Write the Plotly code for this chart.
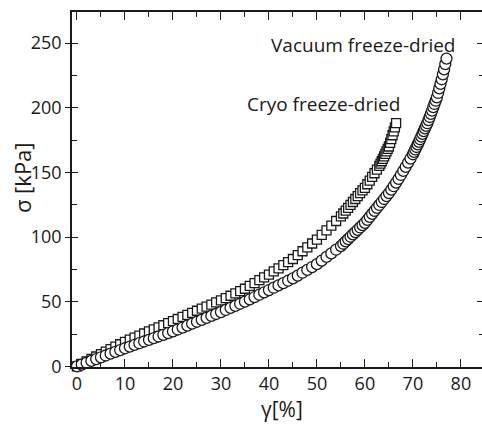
import plotly.graph_objects as go

# Vacuum freeze-dried (circles)
vac_strain = [0, 1, 2, 3, 4, 5, 6, 7, 8, 9, 10, 11, 12, 13, 14, 15, 16, 17, 18, 19, 20,
              21, 22, 23, 24, 25, 26, 27, 28, 29, 30, 31, 32, 33, 34, 35, 36, 37, 38, 39, 40,
              41, 42, 43, 44, 45, 46, 47, 48, 49, 50, 51, 52, 53, 54, 55,
              55.5, 56, 56.5, 57, 57.5, 58, 58.5, 59, 59.5, 60,
              60.5, 61, 61.5, 62, 62.5, 63, 63.5, 64, 64.5, 65,
              65.5, 66, 66.5, 67, 67.5, 68, 68.5, 69, 69.5, 70,
              70.25, 70.5, 70.75, 71, 71.25, 71.5, 71.75, 72, 72.25, 72.5, 72.75, 73,
              73.25, 73.5, 73.75, 74, 74.25, 74.5, 74.75, 75,
              75.25, 75.5, 75.75, 76, 76.25, 76.5, 76.75, 77]
vac_stress = [0, 1.4, 2.8, 4.2, 5.6, 7, 8.4, 9.8, 11.2, 12.6, 14,
              15.3, 16.6, 17.9, 19.2, 20.5, 21.8, 23.1, 24.4, 25.7, 27,
              28.5, 30, 31.5, 33, 34.5, 36, 37.5, 39, 40.5, 42,
              43.6, 45.2, 46.8, 48.4, 50, 51.8, 53.6, 55.4, 57.2, 59,
              60.8, 62.6, 64.4, 66.2, 68, 70.2, 72.4, 74.6, 76.8, 79,
              81.8, 84.6, 87.4, 90.2, 93,
              94.8, 96.6, 98.4, 100.2, 102, 103.8, 105.6, 107.4, 109.2, 111,
              113.3, 115.6, 117.9, 120.2, 122.5, 124.8, 127.1, 129.4, 131.7, 134,
              136.6, 139.3, 142.1, 145, 148, 151.1, 154.3, 157.5, 160.7, 164,
              165.8, 167.7, 169.6, 171.6, 173.6, 175.6, 177.7, 179.8, 181.9, 184, 186, 188,
              190.4, 192.8, 195.3, 197.8, 200.4, 202.9, 205.4, 208,
              211.4, 214.9, 218.4, 222, 225.8, 229.6, 233.7, 238]

# Cryo freeze-dried (squares)
cryo_strain = [0, 1, 2, 3, 4, 5, 6, 7, 8, 9, 10, 11, 12, 13, 14, 15, 16, 17, 18, 19, 20,
               21, 22, 23, 24, 25, 26, 27, 28, 29, 30, 31, 32, 33, 34, 35, 36, 37, 38, 39, 40,
               41, 42, 43, 44, 45, 46, 47, 48, 49, 50, 51, 52, 53, 54, 55,
               55.5, 56, 56.5, 57, 57.5, 58, 58.5, 59, 59.5, 60,
               60.5, 61, 61.5, 62, 62.5, 63,
               63.25, 63.5, 63.75, 64, 64.25, 64.5, 64.75, 65,
               65.25, 65.5, 65.75, 66, 66.25, 66.5]
cryo_stress = [0, 1.9, 3.8, 5.7, 7.6, 9.5, 11.4, 13.3, 15.2, 17.1, 19,
               20.6, 22.2, 23.8, 25.4, 27, 28.6, 30.2, 31.8, 33.4, 35,
               36.6, 38.2, 39.8, 41.4, 43, 44.6, 46.2, 47.8, 49.4, 51,
               52.8, 54.6, 56.4, 58.2, 60, 62.2, 64.4, 66.6, 68.8, 71,
               73.4, 75.8, 78.2, 80.6, 83, 86, 89, 92, 95, 98,
               101.6, 105.2, 108.8, 112.4, 116,
               118.2, 120.4, 122.6, 124.8, 127.1, 129.4, 131.7, 134, 136, 138,
               140.8, 143.6, 146.5, 149.3, 152.1, 155,
               156.8, 158.6, 160.5, 162.4, 164.3, 166.2, 168.1, 170,
               172.8, 175.7, 178.7, 181.7, 184.8, 188]

labels = ["Vacuum freeze-dried", "Cryo freeze-dried"]
label_pos = [(79.2, 248.5), (67.7, 203)]
x_title = "γ[%]"
y_title = "σ [kPa]"

x_ticks = [0, 10, 20, 30, 40, 50, 60, 70, 80]
y_ticks = [0, 50, 100, 150, 200, 250]
y_minor = [25, 75, 125, 175, 225]
x_range = [-1.04, 84.4]
y_range = [-0.5, 274]

FONT = "Open Sans"
INK = "#1a1a1a"

fig = go.Figure()
fig.add_trace(go.Scatter(x=cryo_strain, y=cryo_stress, mode="markers", cliponaxis=False,
                         marker=dict(symbol="square", size=9, color="white",
                                     line=dict(color=INK, width=1.3)),
                         showlegend=False))
fig.add_trace(go.Scatter(x=vac_strain, y=vac_stress, mode="markers", cliponaxis=False,
                         marker=dict(symbol="circle", size=11, color="white",
                                     line=dict(color=INK, width=1.3)),
                         showlegend=False))

for t, (ax, ay) in zip(labels, label_pos):
    fig.add_annotation(x=ax, y=ay, text=t, showarrow=False, xanchor="right", yanchor="middle",
                       font=dict(family=FONT, size=19, color=INK))

# axis titles
fig.add_annotation(x=0.512, y=-0.118, xref="paper", yref="paper", text=x_title,
                   showarrow=False, xanchor="center", yanchor="middle",
                   font=dict(family=FONT, size=21, color=INK))
fig.add_annotation(x=-0.122, y=0.535, xref="paper", yref="paper", text=y_title,
                   textangle=-90, showarrow=False, xanchor="center", yanchor="middle",
                   font=dict(family=FONT, size=22, color=INK))

axis_common = dict(showgrid=False, zeroline=False, linecolor=INK, tickcolor=INK,
                   tickwidth=1.3)

fig.update_layout(
    width=482, height=427,
    margin=dict(l=72, r=0, t=12, b=60),
    paper_bgcolor="white", plot_bgcolor="white",
    font=dict(family=FONT, size=18, color=INK),
    xaxis=dict(range=x_range, tickvals=x_ticks, ticks="inside", ticklen=8,
               showline=True, linewidth=1.5, mirror="ticks",
               minor=dict(dtick=5, ticks="inside", ticklen=5, tickcolor=INK),
               **axis_common),
    yaxis=dict(range=y_range, tickvals=y_ticks, ticks="outside", ticklen=5,
               showline=True, linewidth=1.5,
               minor=dict(tickvals=y_minor, ticks="inside", ticklen=5, tickcolor=INK),
               **axis_common),
    yaxis2=dict(range=y_range, overlaying="y", side="left", tickvals=y_ticks,
                ticks="inside", ticklen=6, showticklabels=False, showline=False,
                **axis_common),
    yaxis3=dict(range=y_range, overlaying="y", side="right", tickvals=y_ticks,
                ticks="inside", ticklen=5, showticklabels=False, showline=False,
                minor=dict(tickvals=y_minor, ticks="inside", ticklen=3, tickcolor=INK),
                **axis_common),
)
# empty traces so the overlay axes are drawn
fig.add_trace(go.Scatter(x=[None], y=[None], yaxis="y2", showlegend=False, hoverinfo="skip"))
fig.add_trace(go.Scatter(x=[None], y=[None], yaxis="y3", showlegend=False, hoverinfo="skip"))

fig.write_html("out.html")
